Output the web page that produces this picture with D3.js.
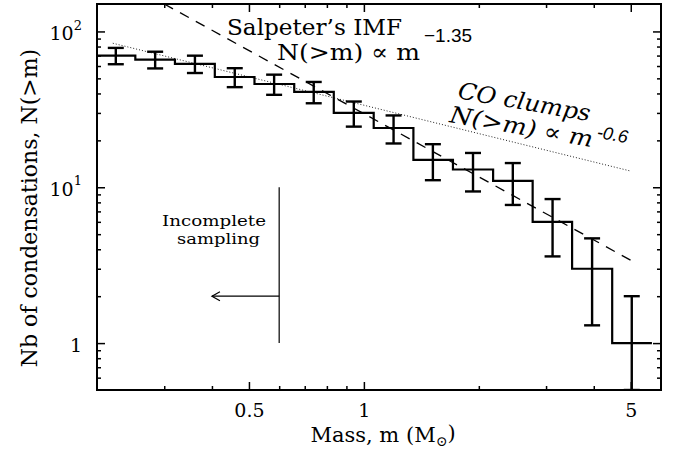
<!DOCTYPE html>
<meta charset='utf-8'>
<style>
body { margin: 0; background: #fff; }
svg text { font-family: 'DejaVu Serif', serif; fill: #000; }
svg .sans { font-family: 'Liberation Sans', Arial, sans-serif; }
</style>
<script src='https://cdnjs.cloudflare.com/ajax/libs/d3/7.8.5/d3.min.js'></script>
<body>
<script>
'use strict'

// Data - cumulative mass function

let bin_edges = [0.2, 0.252, 0.320, 0.407, 0.517, 0.657, 0.834, 1.061, 1.348, 1.711, 2.18, 2.767, 3.51, 4.47, 5.68],
	bin_centers = [0.224, 0.284, 0.361, 0.459, 0.582, 0.739, 0.941, 1.196, 1.516, 1.931, 2.455, 3.12, 3.96, 5.03],
	counts = [70, 66, 62, 51, 46, 41, 30, 24, 15, 13, 11, 6, 3, 1],
	errors = [8.4, 8.1, 7.9, 7.1, 6.8, 6.4, 5.5, 4.9, 3.9, 3.6, 3.3, 2.4, 1.7, 1.0],
	salpeter_m = [0.3, 5], salpeter_n = [150, 3.4],
	co_m = [0.22, 5], co_n = [84, 12.7],
	limit_m = 0.6, limit_n = [1, 10], arrow_m = [0.6, 0.4], arrow_n = 2,
	x_major = [0.5, 1, 5],
	x_minor = [0.3, 0.4, 0.6, 0.7, 0.8, 0.9, 2, 3, 4],
	y_major = [1, 10, 100],
	y_minor = [0.6, 0.7, 0.8, 0.9, 2, 3, 4, 5, 6, 7, 8, 9, 20, 30, 40, 50, 60, 70, 80, 90]

let W = 674, H = 450,
	box = {left: 97, right: 661, top: 4, bottom: 390}

let svg = d3.select('body').append('svg')
	.attr('width', W).attr('height', H)

let x = d3.scaleLog([0.2, 6], [box.left, box.right]),
	y = d3.scaleLog([0.5, 150], [box.bottom, box.top])

svg.append('defs').append('clipPath').attr('id', 'clip')
	.append('rect').attr('x', box.left).attr('y', box.top)
		.attr('width', box.right - box.left).attr('height', box.bottom - box.top)

// Axes: ticks point inward on all four sides

let no_fmt = () => ''
let ax = (g, axis) => g.call(axis).call(g => g.select('.domain').remove())
	.call(g => g.selectAll('line').attr('stroke', '#000').attr('stroke-width', 1.5))

svg.append('g').attr('transform', `translate(0,${box.bottom})`)
	.call(g => ax(g, d3.axisBottom(x).tickValues(x_minor).tickSize(-4).tickFormat(no_fmt)))
svg.append('g').attr('transform', `translate(0,${box.bottom})`)
	.call(g => ax(g, d3.axisBottom(x).tickValues(x_major).tickSize(-8).tickPadding(14).tickFormat(d3.format('~g'))))
	.call(g => g.selectAll('text').attr('font-size', 19).attr('font-family', 'DejaVu Serif'))
svg.append('g').attr('transform', `translate(0,${box.top})`)
	.call(g => ax(g, d3.axisTop(x).tickValues(x_minor).tickSize(-4).tickFormat(no_fmt)))
svg.append('g').attr('transform', `translate(0,${box.top})`)
	.call(g => ax(g, d3.axisTop(x).tickValues(x_major).tickSize(-8).tickFormat(no_fmt)))

svg.append('g').attr('transform', `translate(${box.left},0)`)
	.call(g => ax(g, d3.axisLeft(y).tickValues(y_minor).tickSize(-4).tickFormat(no_fmt)))
let yl = svg.append('g').attr('transform', `translate(${box.left},0)`)
	.call(g => ax(g, d3.axisLeft(y).tickValues(y_major).tickSize(-8).tickPadding(15).tickFormat(no_fmt)))
yl.selectAll('.tick text')
	.attr('font-size', 19).attr('font-family', 'DejaVu Serif').attr('dy', '0.42em')
	.each(function(d) {
		let t = d3.select(this)
		if (d === 1) return t.text('1')
		t.append('tspan').text('10')
		t.append('tspan').attr('font-size', 13).attr('dy', '-0.8em').text(Math.round(Math.log10(d)))
	})
svg.append('g').attr('transform', `translate(${box.right},0)`)
	.call(g => ax(g, d3.axisRight(y).tickValues(y_minor).tickSize(-4).tickFormat(no_fmt)))
svg.append('g').attr('transform', `translate(${box.right},0)`)
	.call(g => ax(g, d3.axisRight(y).tickValues(y_major).tickSize(-8).tickFormat(no_fmt)))

svg.append('rect')
	.attr('x', box.left).attr('y', box.top)
	.attr('width', box.right - box.left).attr('height', box.bottom - box.top)
	.attr('fill', 'none').attr('stroke', '#000').attr('stroke-width', 2)

// Axis titles

svg.append('text')
	.attr('x', 383).attr('y', 442)
	.attr('text-anchor', 'middle').attr('font-size', 21)
	.call(t => {
		t.append('tspan').text('Mass, m (M')
		t.append('tspan').attr('font-size', 14).attr('dy', '0.3em').text('\u2299')
		t.append('tspan').attr('dy', '-0.3em').text(')')
	})

svg.append('text')
	.attr('transform', 'translate(37,208) rotate(-90)')
	.attr('text-anchor', 'middle').attr('font-size', 22)
	.text('Nb of condensations, N(>m)')

// Plot body

let plot = svg.append('g').attr('clip-path', 'url(#clip)')

let line = d3.line().x(d => x(d[0])).y(d => y(d[1]))

plot.append('path')
	.datum(d3.zip(salpeter_m, salpeter_n))
	.attr('d', line).attr('fill', 'none')
	.attr('stroke', '#000').attr('stroke-width', 1.3).attr('stroke-dasharray', '10,8')

plot.append('path')
	.datum(d3.zip(co_m, co_n))
	.attr('d', line).attr('fill', 'none')
	.attr('stroke', '#222').attr('stroke-width', 1).attr('stroke-dasharray', '1,2')

plot.append('path')
	.datum(bin_edges.map((e, i) => [e, counts[Math.min(i, counts.length - 1)]]))
	.attr('d', line.curve(d3.curveStepAfter)).attr('fill', 'none')
	.attr('stroke', '#000').attr('stroke-width', 2.2)
line.curve(d3.curveLinear)

let ebar = plot.append('g').attr('stroke', '#000').attr('stroke-width', 2.4)
	.selectAll('g').data(d3.range(counts.length)).join('g')
	.attr('transform', i => `translate(${x(bin_centers[i])},0)`)
let lo = i => y(Math.max(counts[i] - errors[i], 0.5)),
	hi = i => y(counts[i] + errors[i])
ebar.append('line').attr('y1', lo).attr('y2', hi)
ebar.append('line').attr('x1', -8).attr('x2', 8).attr('y1', hi).attr('y2', hi)
ebar.append('line').attr('x1', -8).attr('x2', 8).attr('y1', lo).attr('y2', lo)

// Completeness limit and arrow

svg.append('line')
	.attr('x1', x(limit_m)).attr('x2', x(limit_m))
	.attr('y1', y(limit_n[0])).attr('y2', y(limit_n[1]))
	.attr('stroke', '#000').attr('stroke-width', 1.2)
svg.append('line')
	.attr('x1', x(arrow_m[0])).attr('x2', x(arrow_m[1]))
	.attr('y1', y(arrow_n)).attr('y2', y(arrow_n))
	.attr('stroke', '#000').attr('stroke-width', 1.2)
svg.append('path')
	.attr('d', `M${x(arrow_m[1]) + 8},${y(arrow_n) - 4.5}L${x(arrow_m[1])},${y(arrow_n)}L${x(arrow_m[1]) + 8},${y(arrow_n) + 4.5}`)
	.attr('fill', 'none').attr('stroke', '#000').attr('stroke-width', 1.2)

svg.append('text').attr('x', 162).attr('y', 226).attr('font-size', 15)
	.attr('textLength', 104).attr('lengthAdjust', 'spacingAndGlyphs').text('Incomplete')
svg.append('text').attr('x', 177).attr('y', 244).attr('font-size', 15)
	.attr('textLength', 83).attr('lengthAdjust', 'spacingAndGlyphs').text('sampling')

// Power-law labels

svg.append('text').attr('x', 227).attr('y', 35).attr('font-size', 23)
	.attr('textLength', 175).attr('lengthAdjust', 'spacingAndGlyphs').text('Salpeter\u2019s IMF')
svg.append('text').attr('x', 277).attr('y', 60).attr('font-size', 23)
	.attr('textLength', 143).attr('lengthAdjust', 'spacingAndGlyphs').text('N(>m) \u221d m')
svg.append('text').attr('class', 'sans').attr('x', 424).attr('y', 42).attr('font-size', 19)
	.text('\u22121.35')

let co = svg.append('g').attr('transform', 'translate(457,98) rotate(10)')
co.append('text').attr('font-size', 23).attr('font-style', 'italic')
	.attr('textLength', 134).attr('lengthAdjust', 'spacingAndGlyphs').text('CO clumps')
co.append('text').attr('x', -4).attr('y', 25).attr('font-size', 23).attr('font-style', 'italic')
	.attr('textLength', 145).attr('lengthAdjust', 'spacingAndGlyphs').text('N(>m) \u221d m')
co.append('text').attr('class', 'sans').attr('x', 144).attr('y', 15).attr('font-size', 18)
	.attr('font-style', 'italic').text('-0.6')
</script>
